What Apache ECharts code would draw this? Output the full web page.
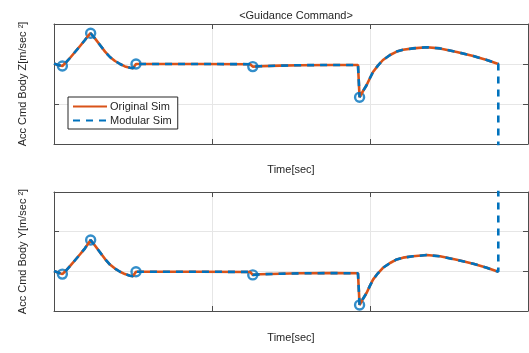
<!DOCTYPE html>
<html>
<head>
<meta charset="utf-8">
<script src="https://cdn.jsdelivr.net/npm/echarts@6/dist/echarts.min.js"></script>
<style>html,body{margin:0;padding:0;background:#fff;}#c{width:529px;height:353px;}</style>
</head>
<body>
<div id="c"></div>
<script>
var times = [0, 0.25, 0.53, 0.76, 1.01, 1.33, 1.65, 1.96, 2.15, 2.32, 2.59, 2.91, 3.23, 3.54, 3.86, 4.18, 4.49, 4.81, 5.0, 5.19, 9.24, 12.41, 12.58, 13.04, 14.3, 15.57, 17.47, 19.24, 19.34, 19.56, 19.79, 20.0, 20.19, 20.5, 20.82, 21.27, 21.69, 22.09, 22.72, 23.59, 24.43, 25.49, 26.54, 27.39, 28.12];
var accZ = [20.1, 19.75, 19.5, 20.4, 21.5, 23.0, 24.5, 26.0, 27.0, 27.7, 26.4, 24.75, 23.1, 21.75, 20.75, 20.0, 19.4, 19.05, 18.95, 20.0, 20.0, 19.95, 19.35, 19.45, 19.6, 19.7, 19.75, 19.75, 11.7, 13.25, 14.75, 16.5, 18.0, 19.6, 21.0, 22.25, 23.1, 23.55, 23.9, 24.2, 23.9, 23.0, 22.0, 21.0, 20.0];
var accY = [10.1, 9.7, 9.3, 10.2, 11.3, 12.8, 14.3, 15.8, 16.9, 17.9, 16.5, 14.8, 13.1, 11.7, 10.7, 9.9, 9.3, 8.9, 8.8, 9.9, 9.9, 9.85, 9.1, 9.25, 9.4, 9.5, 9.55, 9.5, 1.5, 3.1, 4.6, 6.4, 7.9, 9.5, 10.9, 12.1, 13.0, 13.45, 13.8, 14.1, 13.8, 12.9, 11.9, 10.9, 9.9];
var modularEndZ = -10;   // modular sim final sample (off scale, below)
var modularEndY = 40;    // modular sim final sample (off scale, above)
var markerIdx = [2, 9, 19, 22, 28];
var xTicks = [0, 10, 20, 30];
var yTicks = [0, 10, 20, 30];

function pairs(t, v) { return t.map(function (x, i) { return [x, v[i]]; }); }
var origZ = pairs(times, accZ);
var modZ = origZ.concat([[times[times.length - 1], modularEndZ]]);
var origY = pairs(times, accY);
var modY = origY.concat([[times[times.length - 1], modularEndY]]);
var markZ = markerIdx.map(function (i) { return [times[i], accZ[i]]; });
var markY = markerIdx.map(function (i) { return [times[i], accY[i]]; });

var FONT = 'Liberation Sans, Arial, sans-serif';
var TXT = '#262626';
var BOX = '#4d4d4d';
var ORANGE = '#D95319';
var BLUE = '#0072BD';

function xAx(grid, pos, name, gap) {
  return {
    type: 'value', gridIndex: grid, position: pos,
    min: xTicks[0], max: xTicks[xTicks.length - 1], interval: xTicks[1] - xTicks[0],
    axisLine: { show: true, onZero: false, lineStyle: { color: BOX, width: 1 } },
    axisTick: { show: true, inside: true, length: 5, lineStyle: { color: BOX } },
    axisLabel: { show: false },
    splitLine: { show: pos === 'bottom', lineStyle: { color: '#e6e6e6', width: 1 } },
    name: name || '', nameLocation: 'middle', nameGap: gap || 0,
    nameTextStyle: { fontFamily: FONT, fontSize: 11, color: TXT }
  };
}
function yAx(grid, pos, name) {
  return {
    type: 'value', gridIndex: grid, position: pos,
    min: yTicks[0], max: yTicks[yTicks.length - 1], interval: yTicks[1] - yTicks[0],
    axisLine: { show: true, onZero: false, lineStyle: { color: BOX, width: 1 } },
    axisTick: { show: true, inside: true, length: 5, lineStyle: { color: BOX } },
    axisLabel: { show: false },
    splitLine: { show: pos === 'left', lineStyle: { color: '#e6e6e6', width: 1 } },
    name: name || '', nameLocation: 'middle', nameGap: 26, nameRotate: 90,
    nameTextStyle: { fontFamily: FONT, fontSize: 11, color: TXT }
  };
}
function lineS(name, data, xi, yi, color, dashed) {
  return {
    name: name, type: 'line', xAxisIndex: xi, yAxisIndex: yi, data: data,
    symbol: 'none', smooth: false, animation: false, clip: true,
    lineStyle: { color: color, width: 2.6, type: dashed ? [7, 6] : 'solid', cap: 'butt' },
    itemStyle: { color: color }
  };
}
function markS(data, xi, yi) {
  return {
    name: 'markers', type: 'scatter', xAxisIndex: xi, yAxisIndex: yi, data: data,
    symbol: 'circle', symbolSize: 9, animation: false,
    itemStyle: { color: 'rgba(0,0,0,0)', borderColor: BLUE, borderWidth: 2.4 }
  };
}

var chart = echarts.init(document.getElementById('c'), null, { renderer: 'canvas' });
chart.setOption({
  backgroundColor: '#ffffff',
  animation: false,
  title: {
    text: '<Guidance Command>', left: 291, textAlign: 'center', top: 5,
    textStyle: { fontFamily: FONT, fontSize: 11, fontWeight: 'normal', color: TXT }
  },
  legend: {
    data: ['Original Sim', 'Modular Sim'],
    orient: 'vertical', left: 68, top: 97,
    padding: [4, 6, 3, 4], itemGap: 3, itemWidth: 34, itemHeight: 11,
    backgroundColor: '#ffffff', borderColor: '#262626', borderWidth: 1, borderRadius: 0,
    itemStyle: { opacity: 0 },
    textStyle: { fontFamily: FONT, fontSize: 11, color: TXT, padding: [0, 0, 0, -2] }
  },
  grid: [
    { left: 54, top: 24, width: 474, height: 120, containLabel: false },
    { left: 54, top: 192, width: 474, height: 119, containLabel: false }
  ],
  xAxis: [
    xAx(0, 'bottom', 'Time[sec]', 20),
    xAx(0, 'top'),
    xAx(1, 'bottom', 'Time[sec]', 21),
    xAx(1, 'top')
  ],
  yAxis: [
    yAx(0, 'left', 'Acc Cmd Body Z[m/sec \u00B2]'),
    yAx(0, 'right'),
    yAx(1, 'left', 'Acc Cmd Body Y[m/sec \u00B2]'),
    yAx(1, 'right')
  ],
  series: [
    lineS('Original Sim', origZ, 0, 0, ORANGE, false),
    lineS('Modular Sim', modZ, 0, 0, BLUE, true),
    markS(markZ, 0, 0),
    lineS('Original Sim', origY, 2, 2, ORANGE, false),
    lineS('Modular Sim', modY, 2, 2, BLUE, true),
    markS(markY, 2, 2)
  ]
});
</script>
</body>
</html>
